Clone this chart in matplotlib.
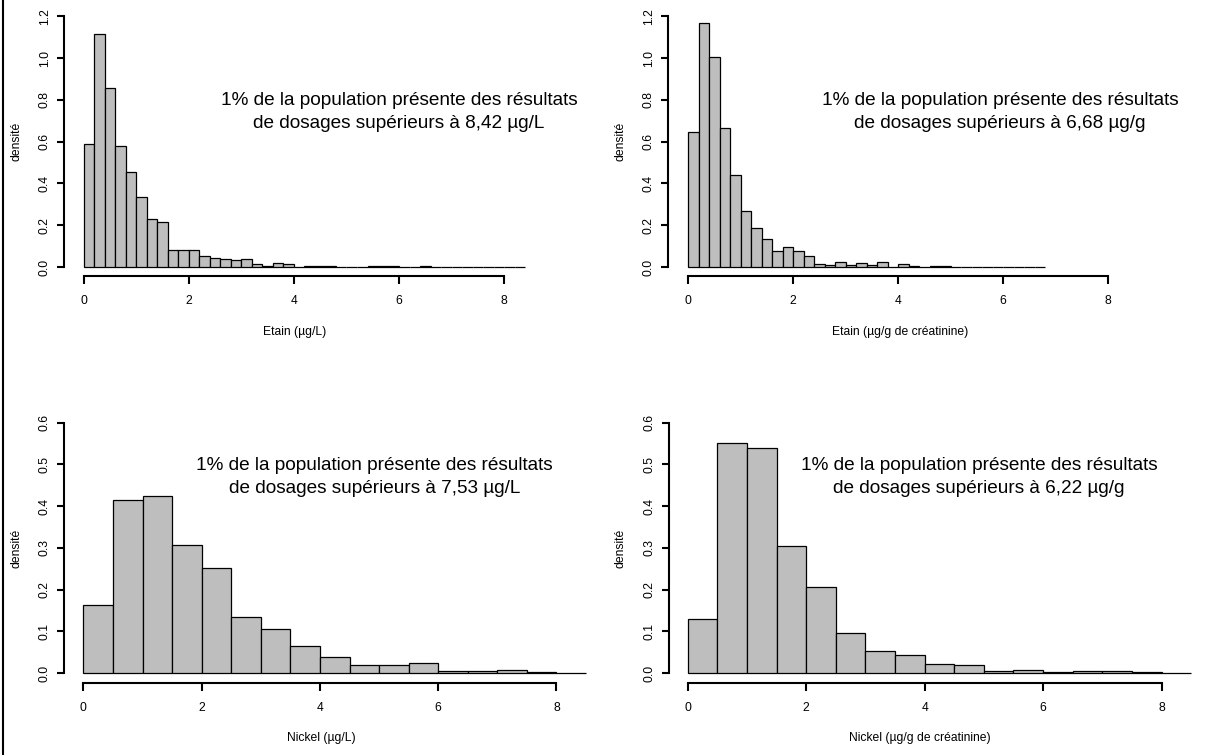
import numpy as np
import matplotlib
matplotlib.use("Agg")
import matplotlib.pyplot as plt
from matplotlib.lines import Line2D

plt.rcParams['font.family'] = ['Liberation Sans', 'DejaVu Sans']

# densities
etain_L = [0.588, 1.117, 0.858, 0.580, 0.455, 0.335, 0.230, 0.217, 0.083, 0.083,
           0.083, 0.054, 0.045, 0.040, 0.035, 0.040, 0.016, 0.005, 0.021, 0.016,
           0.0, 0.005, 0.005, 0.005, 0.0, 0.0, 0.0, 0.005, 0.005, 0.005,
           0.0, 0.0, 0.005, 0.0, 0.0, 0.0, 0.0, 0.0, 0.0, 0.0, 0.0, 0.0]
etain_creat = [0.645, 1.168, 1.006, 0.665, 0.438, 0.268, 0.185, 0.133, 0.078, 0.096,
               0.078, 0.051, 0.016, 0.012, 0.026, 0.008, 0.018, 0.008, 0.022, 0.0,
               0.014, 0.005, 0.0, 0.005, 0.005, 0.0, 0.0, 0.0, 0.0, 0.0,
               0.0, 0.0, 0.0, 0.0]
nickel_L = [0.164, 0.414, 0.425, 0.306, 0.251, 0.133, 0.106, 0.064, 0.038, 0.018,
            0.018, 0.024, 0.004, 0.004, 0.007, 0.002, 0.001]
nickel_creat = [0.130, 0.551, 0.540, 0.304, 0.206, 0.095, 0.053, 0.042, 0.022, 0.018,
                0.004, 0.007, 0.002, 0.004, 0.004, 0.002, 0.0]

bw_etain = 0.2
bw_nickel = 0.5

xlabels = ["Etain (µg/L)", "Etain (µg/g de créatinine)",
           "Nickel (µg/L)", "Nickel (µg/g de créatinine)"]
seuils = ["8,42 µg/L", "6,68 µg/g", "7,53 µg/L", "6,22 µg/g"]

W, H = 1210, 755
fig = plt.figure(figsize=(W / 100, H / 100), dpi=100)

# panel geometry in pixels: left, right, top, bottom, xlim, ylim
panels = [
    dict(px=(64, 526, 6, 276), xlim=(-0.371, 8.413), ylim=(-0.043, 1.249),
         data=etain_L, bw=bw_etain, yt=np.arange(0, 1.21, 0.2),
         txt=(6.0, 0.795, 0.688), ylab_x=17, xlab_y=332),
    dict(px=(668, 1132, 6, 276), xlim=(-0.381, 8.451), ylim=(-0.043, 1.249),
         data=etain_creat, bw=bw_etain, yt=np.arange(0, 1.21, 0.2),
         txt=(5.94, 0.795, 0.688), ylab_x=620, xlab_y=332),
    dict(px=(64, 578, 413, 683), xlim=(-0.328, 8.364), ylim=(-0.024, 0.623),
         data=nickel_L, bw=bw_nickel, yt=np.arange(0, 0.61, 0.1),
         txt=(4.92, 0.496, 0.442), ylab_x=16, xlab_y=738),
    dict(px=(669, 1171, 413, 683), xlim=(-0.316, 8.159), ylim=(-0.024, 0.623),
         data=nickel_creat, bw=bw_nickel, yt=np.arange(0, 0.61, 0.1),
         txt=(4.92, 0.496, 0.442), ylab_x=621, xlab_y=738),
]

for p, xl, s in zip(panels, xlabels, seuils):
    l, r, t, b = p['px']
    ax = fig.add_axes([l / W, (H - b) / H, (r - l) / W, (b - t) / H])
    ax.set_xlim(*p['xlim'])
    ax.set_ylim(*p['ylim'])
    dens = p['data']
    edges = np.arange(len(dens)) * p['bw']
    ax.bar(edges, dens, width=p['bw'], align='edge', color='#BEBEBE',
           edgecolor='black', linewidth=0.9, clip_on=False)

    for side in ['top', 'right']:
        ax.spines[side].set_visible(False)
    ax.spines['left'].set_bounds(0, p['yt'][-1])
    ax.spines['bottom'].set_bounds(0, 8)
    ax.spines['left'].set_linewidth(1.5)
    ax.spines['bottom'].set_linewidth(1.5)

    ax.set_xticks([0, 2, 4, 6, 8])
    ax.set_xticklabels(['0', '2', '4', '6', '8'])
    ax.set_yticks(p['yt'])
    ax.set_yticklabels(['%.1f' % v for v in p['yt']], rotation=90, va='center')
    ax.tick_params(axis='x', length=6, width=1.5, pad=8, labelsize=8.7)
    ax.tick_params(axis='y', length=5, width=1.5, pad=4.5, labelsize=8.7)

    ax.set_xlabel(xl, fontsize=8.7, va='center')
    ax.xaxis.set_label_coords(0.5, (b - p['xlab_y']) / (b - t))
    ax.set_ylabel('densité', fontsize=8.7, va='center')
    ax.yaxis.set_label_coords((p['ylab_x'] - l) / (r - l), 0.5)

    tx, ty1, ty2 = p['txt']
    ax.text(tx, ty1, "1% de la population présente des résultats",
            ha='center', va='center', fontsize=13.7)
    ax.text(tx, ty2, "de dosages supérieurs à " + s,
            ha='center', va='center', fontsize=13.7)

# left frame line of the original screenshot
fig.add_artist(Line2D([3 / W, 3 / W], [0, 1], color='black', linewidth=1.5))

fig.savefig("out.png", dpi=100)
